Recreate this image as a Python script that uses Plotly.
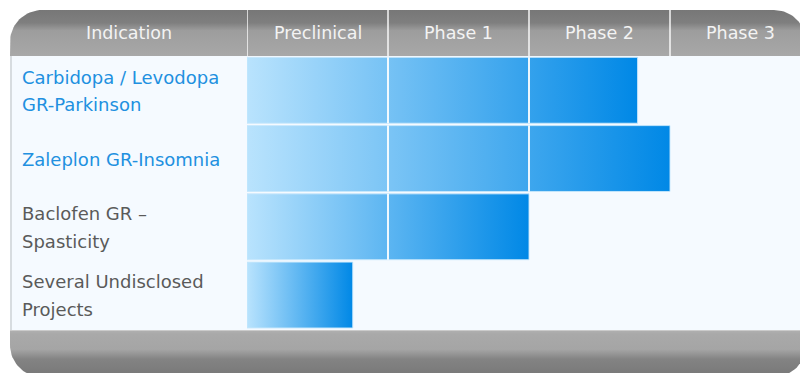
import math
import plotly.graph_objects as go

# ---------------- data ----------------
phases = ["Preclinical", "Phase 1", "Phase 2", "Phase 3"]
indication_header = "Indication"
indication_lines = [
    ["Carbidopa / Levodopa", "GR-Parkinson"],
    ["Zaleplon GR-Insomnia"],
    ["Baclofen GR –", "Spasticity"],
    ["Several Undisclosed", "Projects"],
]
progress = [2.77, 3.0, 2.0, 0.75]   # phases completed (in phase units)

# ---------------- style / geometry ----------------
W, H = 800, 373
X0 = 247                 # pixel where phase columns start
PX_PER_PHASE = 141
HDR_TOP, BODY_TOP, BODY_BOT = 10, 56, 329
PANEL_L, PANEL_R = 10, 806
FONT = "DejaVu Sans"
LABEL_COLORS = ["#2190e0", "#2190e0", "#5a5a5a", "#5a5a5a"]
BAR_SCALE = [[0, "#b9e3fd"], [1, "#0088e6"]]

n_rows = len(indication_lines)


def rounded_rect(x0, y0, x1, y1, r_tl, r_tr, r_br, r_bl, n=20):
    xs, ys = [], []

    def arc(cx, cy, r, a0, a1):
        if r <= 0:
            xs.append(cx); ys.append(cy)
            return
        for k in range(n + 1):
            t = math.radians(a0 + (a1 - a0) * k / n)
            xs.append(cx + r * math.cos(t)); ys.append(cy + r * math.sin(t))

    arc(x1 - r_tr, y0 + r_tr, r_tr, -90, 0)
    arc(x1 - r_br, y1 - r_br, r_br, 0, 90)
    arc(x0 + r_bl, y1 - r_bl, r_bl, 90, 180)
    arc(x0 + r_tl, y0 + r_tl, r_tl, 180, 270)
    xs.append(xs[0]); ys.append(ys[0])
    return xs, ys


fig = go.Figure()

# ---------- decoration on pixel axes (x, y) ----------
bx, by = rounded_rect(PANEL_L, BODY_TOP, PANEL_R, BODY_BOT + 1, 0, 0, 0, 0)
fig.add_trace(go.Scatter(x=bx, y=by, fill="toself", fillcolor="#f5faff",
                         line=dict(width=0), mode="lines", hoverinfo="skip",
                         showlegend=False, xaxis="x", yaxis="y"))
fig.add_trace(go.Scatter(x=[PANEL_L + 1, PANEL_L + 1], y=[BODY_TOP, BODY_BOT + 1],
                         mode="lines", line=dict(color="#cdd2d6", width=1.5),
                         hoverinfo="skip", showlegend=False, xaxis="x", yaxis="y"))
hx, hy = rounded_rect(PANEL_L, HDR_TOP, PANEL_R, BODY_TOP, 32, 32, 0, 0)
fig.add_trace(go.Scatter(
    x=hx, y=hy, fill="toself", mode="lines", line=dict(width=0),
    fillgradient=dict(type="vertical", start=HDR_TOP, stop=BODY_TOP,
                      colorscale=[[0, "#777777"], [0.28, "#7f7f7f"],
                                  [0.45, "#9d9d9d"], [1, "#a8a8a8"]]),
    hoverinfo="skip", showlegend=False, xaxis="x", yaxis="y"))
FOOT_TOP, FOOT_BOT = BODY_BOT + 1, 377
fx, fy = rounded_rect(PANEL_L, FOOT_TOP, PANEL_R, FOOT_BOT, 0, 0, 32, 32)
fig.add_trace(go.Scatter(
    x=fx, y=fy, fill="toself", mode="lines", line=dict(width=0),
    fillgradient=dict(type="vertical", start=FOOT_TOP, stop=H,
                      colorscale=[[0, "#b0b0b0"], [0.1, "#a9a9a9"], [0.45, "#a5a5a5"],
                                  [0.68, "#838383"], [1, "#7a7a7a"]]),
    hoverinfo="skip", showlegend=False, xaxis="x", yaxis="y"))
fig.add_trace(go.Scatter(x=[PANEL_L, PANEL_R], y=[FOOT_TOP + 0.5, FOOT_TOP + 0.5],
                         mode="lines", line=dict(color="#cbcbcb", width=1),
                         hoverinfo="skip", showlegend=False, xaxis="x", yaxis="y"))

# ---------- data bars on axes (x2, y2) ----------
for i, p in enumerate(progress):
    y0, y1 = i + 0.02, i + 0.985
    fig.add_trace(go.Scatter(
        x=[0, p, p, 0, 0], y=[y0, y0, y1, y1, y0],
        fill="toself", mode="lines",
        line=dict(color="rgba(200,232,252,0.9)", width=1),
        fillgradient=dict(type="horizontal", colorscale=BAR_SCALE),
        hoverinfo="skip", showlegend=False, xaxis="x2", yaxis="y2"))
    # white phase separators inside the bar
    k = 1
    while k < p:
        fig.add_trace(go.Scatter(x=[k, k], y=[y0, y1], mode="lines",
                                 line=dict(color="rgba(255,255,255,0.9)", width=2),
                                 hoverinfo="skip", showlegend=False,
                                 xaxis="x2", yaxis="y2"))
        k += 1

# header separators
hdr_y0 = 1 - BODY_TOP / H
hdr_y1 = 1 - HDR_TOP / H
for k in range(len(phases)):
    fig.add_shape(type="line", xref="x2", yref="paper", x0=k, x1=k,
                  y0=hdr_y0, y1=hdr_y1,
                  line=dict(color="rgba(255,255,255,0.92)", width=1.5))

# header texts
hdr_text_y = 1 - 33 / H
fig.add_annotation(x=(PANEL_L + X0) / 2 / W, y=hdr_text_y, xref="paper", yref="paper",
                   text=indication_header, showarrow=False, xanchor="center",
                   yanchor="middle", font=dict(family=FONT, size=17.5, color="#f3f3f3"))
for k, ph in enumerate(phases):
    fig.add_annotation(x=k + 0.5, y=hdr_text_y, xref="x2", yref="paper",
                       text=ph, showarrow=False, xanchor="center", yanchor="middle",
                       font=dict(family=FONT, size=17.5, color="#f3f3f3"))

# row labels
LINE_STEP = 27.5 / ((BODY_BOT - BODY_TOP) / n_rows)
for i, lines in enumerate(indication_lines):
    nl = len(lines)
    for j, t in enumerate(lines):
        yy = i + 0.5 + (j - (nl - 1) / 2) * LINE_STEP + 0.01
        fig.add_annotation(x=20 / W, y=yy, xref="paper", yref="y2", text=t,
                           showarrow=False, xanchor="left", yanchor="middle",
                           font=dict(family=FONT, size=18, color=LABEL_COLORS[i]))

fig.update_layout(
    width=W, height=H, autosize=False,
    margin=dict(l=0, r=0, t=0, b=0, pad=0),
    paper_bgcolor="white", plot_bgcolor="rgba(0,0,0,0)",
    showlegend=False,
    xaxis=dict(domain=[0, 1], range=[0, W], visible=False, fixedrange=True),
    yaxis=dict(domain=[0, 1], range=[H, 0], visible=False, fixedrange=True),
    xaxis2=dict(domain=[X0 / W, 1], range=[0, (W - X0) / PX_PER_PHASE],
                visible=False, fixedrange=True, anchor="y2"),
    yaxis2=dict(domain=[1 - BODY_BOT / H, 1 - BODY_TOP / H], range=[n_rows, 0],
                visible=False, fixedrange=True, anchor="x2"),
)

fig.write_html("out.html", config=dict(displayModeBar=False))
